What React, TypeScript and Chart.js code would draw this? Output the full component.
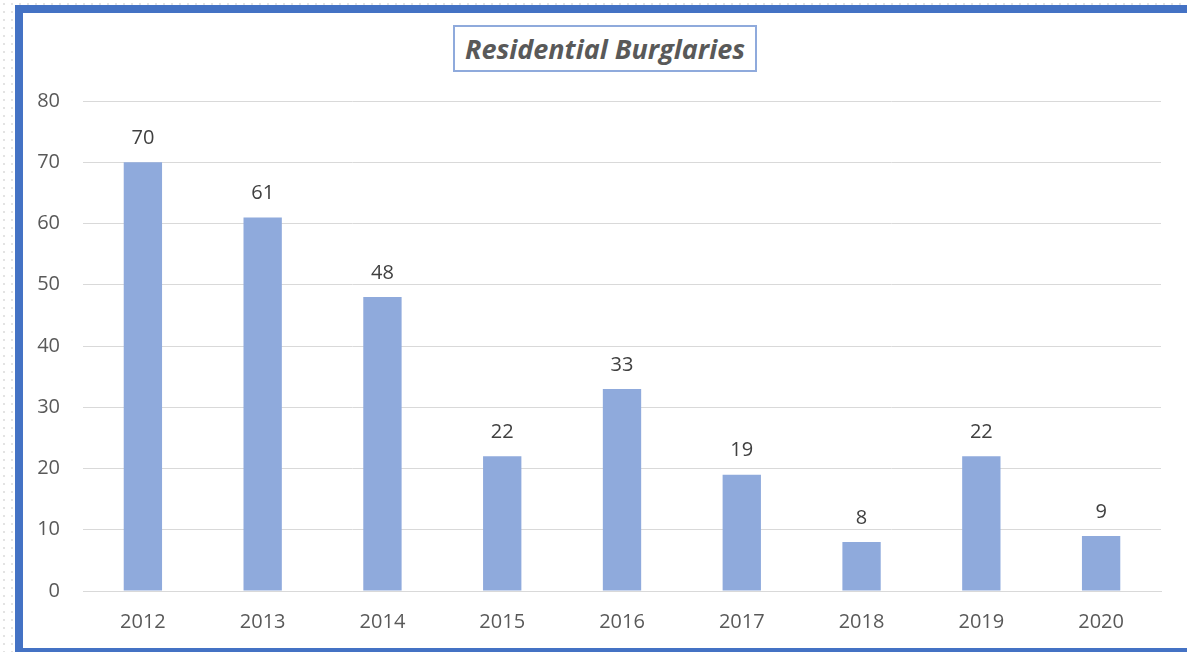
import React, { useEffect, useRef } from "react";
import { Chart, registerables } from "chart.js";

Chart.register(...registerables);

const years = ["2012", "2013", "2014", "2015", "2016", "2017", "2018", "2019", "2020"];
const burglaries = [70, 61, 48, 22, 33, 19, 8, 22, 9];
const titleText = "Residential Burglaries";
const yMax = 80;
const yStep = 10;

const FONT = "'Open Sans', 'Liberation Sans', sans-serif";

const labelPlugin = {
  id: "barLabels",
  afterDatasetsDraw(chart: any) {
    const ctx = chart.ctx;
    const meta = chart.getDatasetMeta(0);
    ctx.save();
    ctx.fillStyle = "#404040";
    ctx.font = `20px ${FONT}`;
    ctx.textAlign = "center";
    ctx.textBaseline = "middle";
    meta.data.forEach((el: any, i: number) => {
      ctx.fillText(String(burglaries[i]), el.x, el.y - 24);
    });
    ctx.restore();
  },
};

export default function App() {
  const ref = useRef<HTMLCanvasElement | null>(null);
  useEffect(() => {
    document.body.style.margin = "0";
    document.body.style.overflow = "hidden";
    const chart = new Chart(ref.current!, {
      type: "bar",
      data: {
        labels: years,
        datasets: [
          {
            data: burglaries,
            backgroundColor: "#8FAADC",
            categoryPercentage: 1,
            barPercentage: 0.32,
          },
        ],
      },
      options: {
        animation: false,
        responsive: false,
        devicePixelRatio: 1,
        layout: { padding: { left: 0, right: 26, top: 101, bottom: 0 } },
        plugins: { legend: { display: false }, title: { display: false }, tooltip: { enabled: false } },
        scales: {
          x: {
            grid: { display: false },
            border: { display: true, color: "#D9D9D9", width: 1 },
            ticks: { color: "#595959", font: { family: FONT, size: 20 }, padding: 11, maxRotation: 0 },
            afterFit: (s: any) => {
              s.height = 61;
            },
          },
          y: {
            min: 0,
            max: yMax,
            grid: { color: "#D9D9D9", lineWidth: 1, drawTicks: false },
            border: { display: false },
            ticks: { stepSize: yStep, color: "#595959", font: { family: FONT, size: 20 }, padding: 23 },
            afterFit: (s: any) => {
              s.width = 83;
            },
          },
        },
      },
      plugins: [labelPlugin],
    });
    return () => chart.destroy();
  }, []);

  return (
    <div
      style={{
        position: "absolute",
        left: 0,
        top: 0,
        width: 1187,
        height: 652,
        overflow: "hidden",
        backgroundColor: "#FFFFFF",
        backgroundImage: "radial-gradient(#E3E3E3 1px, transparent 1.2px)",
        backgroundSize: "8px 8px",
      }}
    >
      <div
        style={{
          position: "absolute",
          left: 15,
          top: 5,
          width: 1200,
          height: 651,
          boxSizing: "border-box",
          borderTop: "8px solid #4472C4",
          borderLeft: "8px solid #4472C4",
          borderBottom: "8px solid #4472C4",
          background: "#FFFFFF",
        }}
      />
      <canvas
        ref={ref}
        width={1187}
        height={652}
        style={{ position: "absolute", left: 0, top: 0, width: 1187, height: 652 }}
      />
      <div
        style={{
          position: "absolute",
          left: 453,
          top: 25,
          width: 304,
          height: 47,
          boxSizing: "border-box",
          border: "2px solid #8FAADC",
          display: "flex",
          alignItems: "center",
          justifyContent: "center",
          fontFamily: FONT,
          fontWeight: "bold",
          fontStyle: "italic",
          fontSize: 27,
          color: "#595959",
          background: "#FFFFFF",
          whiteSpace: "nowrap",
        }}
      >
        {titleText}
      </div>
    </div>
  );
}
